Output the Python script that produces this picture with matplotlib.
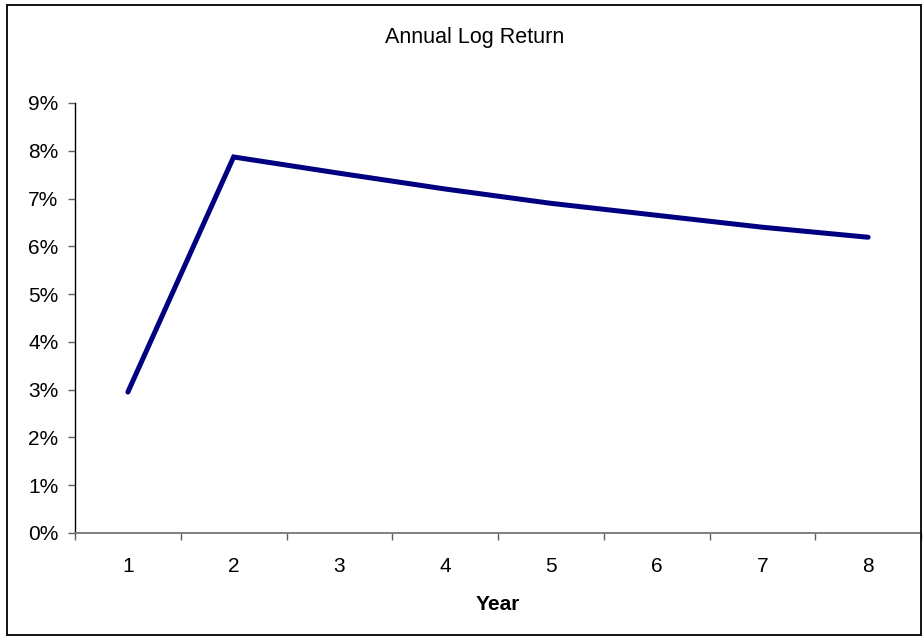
import matplotlib

matplotlib.use("Agg")
import matplotlib.pyplot as plt
from matplotlib.patches import Rectangle
from matplotlib.ticker import FixedLocator, PercentFormatter

years = [1, 2, 3, 4, 5, 6, 7, 8]
log_return = [2.95, 7.87, 7.53, 7.20, 6.90, 6.65, 6.40, 6.19]
y_ticks = [0, 1, 2, 3, 4, 5, 6, 7, 8, 9]

plt.rcParams["font.family"] = ["Liberation Sans", "DejaVu Sans"]

W, H = 924, 638
fig = plt.figure(figsize=(W / 100, H / 100), dpi=100)
ax = fig.add_axes([75 / W, 1 - 533 / H, (921 - 75) / W, (533 - 103) / H])

ax.plot(years, log_return, color="#000080", lw=3.6, solid_capstyle="round",
        solid_joinstyle="miter", clip_on=False)

ax.set_xlim(0.5, 8.5)
ax.set_ylim(0, 9)
ax.set_yticks(y_ticks)
ax.yaxis.set_major_formatter(PercentFormatter(decimals=0))
ax.set_xticks(years)
ax.xaxis.set_minor_locator(FixedLocator([y + 0.5 for y in range(0, 9)]))

for s in ["top", "right"]:
    ax.spines[s].set_visible(False)
ax.spines["left"].set_color("#000000")
ax.spines["bottom"].set_color("#808080")
ax.spines["left"].set_linewidth(1.0)
ax.spines["bottom"].set_linewidth(1.4)

ax.tick_params(axis="y", direction="out", length=5, width=1.0, color="#606060",
               pad=7, labelsize=15)
ax.tick_params(axis="x", which="major", length=0, pad=17, labelsize=15)
ax.tick_params(axis="x", which="minor", direction="out", length=5, width=1.0,
               color="#606060")

fig.text(475 / W, 1 - 38 / H, "Annual Log Return", ha="center", va="center",
         fontsize=15.5)
fig.text(498 / W, 1 - 604 / H, "Year", ha="center", va="center",
         fontsize=15, fontweight="bold")

fig.patches.append(Rectangle((7 / W, 3 / H), (921 - 7) / W, (634 - 4) / H,
                             transform=fig.transFigure, fill=False,
                             edgecolor="#000000", lw=1.3))

fig.savefig("out.png", dpi=100)
